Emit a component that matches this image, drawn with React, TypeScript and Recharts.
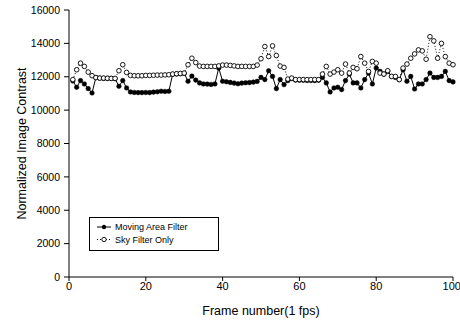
import React from 'react';
import { LineChart, Line, XAxis, YAxis, Legend } from 'recharts';

const FONT = '"Liberation Sans", Arial, sans-serif';

// frame index (1 fps)
const frames = [
    1, 2, 3, 4, 5, 6, 7, 8, 9, 10, 11, 12, 13, 14, 15, 16, 17, 18, 19, 20,
    21, 22, 23, 24, 25, 26, 27, 28, 29, 30, 31, 32, 33, 34, 35, 36, 37, 38, 39, 40,
    41, 42, 43, 44, 45, 46, 47, 48, 49, 50, 51, 52, 53, 54, 55, 56, 57, 58, 59, 60,
    61, 62, 63, 64, 65, 66, 67, 68, 69, 70, 71, 72, 73, 74, 75, 76, 77, 78, 79, 80,
    81, 82, 83, 84, 85, 86, 87, 88, 89, 90, 91, 92, 93, 94, 95, 96, 97, 98, 99, 100,
];

const movingAreaFilter = [
    11750, 11370, 11770, 11570, 11290, 11030, 11950, 11920, 11900, 11900,
    11900, 11880, 11430, 11770, 11330, 11090, 11060, 11050, 11050, 11060,
    11050, 11080, 11100, 11130, 11120, 11130, 12150, 12170, 12180, 12200,
    11730, 12040, 11800, 11630, 11570, 11560, 11540, 11570, 12520, 11730,
    11700, 11660, 11620, 11580, 11620, 11640, 11650, 11680, 11720, 11960,
    11830, 12360, 12020, 11290, 11830, 11530, 11770, 11890, 11800, 11790,
    11790, 11780, 11780, 11770, 11790, 11960, 11630, 11090, 11330, 11370,
    11230, 11770, 12160, 11630, 11630, 11330, 11830, 12220, 11570, 12520,
    12320, 12160, 12320, 12020, 11960, 11830, 12420, 11730, 12020, 11270,
    11570, 11570, 11830, 12220, 11960, 11960, 12020, 12320, 11770, 11690,
];

const skyFilterOnly = [
    11830, 12420, 12815, 12620, 12280, 12065, 11950, 11920, 11920, 11910,
    11900, 11900, 12360, 12720, 12260, 12080, 12060, 12060, 12060, 12080,
    12080, 12090, 12100, 12100, 12110, 12120, 12160, 12180, 12200, 12220,
    12720, 13110, 12850, 12640, 12620, 12620, 12620, 12620, 12650, 12700,
    12700, 12680, 12650, 12620, 12620, 12620, 12620, 12620, 12700, 13080,
    13810, 13210, 13850, 13270, 12640, 12560, 11860, 11920, 11830, 11830,
    11830, 11830, 11830, 11830, 11830, 12160, 12620, 12160, 12280, 12420,
    12220, 12760, 12220, 12560, 12480, 13210, 12815, 12320, 12920, 12815,
    12220, 12160, 12360, 12020, 12020, 11830, 12520, 12760, 13110, 13370,
    13610, 13550, 13050, 14400, 14150, 13110, 14000, 13210, 12815, 12720,
];

const xTicks = [0, 20, 40, 60, 80, 100];
const yTicks = [0, 2000, 4000, 6000, 8000, 10000, 12000, 14000, 16000];

const seriesNames = ['Moving Area Filter', 'Sky Filter Only'];

const data = frames.map((f, i) => ({
    frame: f,
    moving: movingAreaFilter[i],
    sky: skyFilterOnly[i],
}));

const LegendBox = () => (
    <svg width={130} height={34} style={{ display: 'block' }}>
        <rect x={0.5} y={0.5} width={129} height={33} fill="#fff" stroke="#000" strokeWidth={1} />
        <line x1={8} y1={10} x2={22} y2={10} stroke="#000" strokeWidth={1} />
        <circle cx={15} cy={10} r={2.2} fill="#000" />
        <text x={26} y={13.2} fontSize={9} fontFamily={FONT} fill="#000">{seriesNames[0]}</text>
        <line x1={8} y1={22.5} x2={22} y2={22.5} stroke="#000" strokeWidth={1} strokeDasharray="1 2" />
        <circle cx={15} cy={22.5} r={2.2} fill="#fff" stroke="#000" strokeWidth={0.9} />
        <text x={26} y={25.7} fontSize={9} fontFamily={FONT} fill="#000">{seriesNames[1]}</text>
    </svg>
);

const App: React.FC = () => {
    const tickStyle = { fill: '#000', fontSize: 11, fontFamily: FONT };

    return (
        <div style={{ position: 'absolute', left: 0, top: 0, background: '#fff' }}>
            <LineChart width={460} height={324} data={data} margin={{ top: 10, right: 7, left: 0, bottom: 0 }}>
                <XAxis
                    dataKey="frame"
                    type="number"
                    domain={[0, 100]}
                    ticks={xTicks}
                    height={47}
                    tickSize={4}
                    tickMargin={1}
                    stroke="#000"
                    tick={tickStyle}
                    label={{ value: 'Frame number(1 fps)', position: 'insideBottom', offset: 9, fill: '#000', fontSize: 12.5, fontFamily: FONT }}
                />
                <XAxis xAxisId="top" orientation="top" type="number" domain={[0, 100]} tick={false} tickLine={false} height={0} stroke="#000" />
                <YAxis
                    type="number"
                    domain={[0, 16000]}
                    ticks={yTicks}
                    width={69}
                    tickSize={5}
                    tickMargin={4}
                    stroke="#000"
                    tick={{ ...tickStyle, fontSize: 10.5 }}
                    interval={0}
                    label={{ value: 'Normalized Image Contrast', angle: -90, position: 'center', dx: -13, fill: '#000', fontSize: 12.5, fontFamily: FONT }}
                />
                <YAxis yAxisId="right" orientation="right" type="number" domain={[0, 16000]} tick={false} tickLine={false} width={0} stroke="#000" />
                <Legend
                    layout="horizontal"
                    verticalAlign="middle"
                    align="center"
                    wrapperStyle={{ left: 89, top: 217, width: 130, height: 34 }}
                    content={() => <LegendBox />}
                />
                <Line
                    dataKey="moving"
                    name={seriesNames[0]}
                    stroke="#000"
                    strokeWidth={1}
                    dot={{ r: 2.3, fill: '#000', stroke: '#000', strokeWidth: 0.5 }}
                    isAnimationActive={false}
                />
                <Line
                    dataKey="sky"
                    name={seriesNames[1]}
                    stroke="#000"
                    strokeWidth={1}
                    strokeDasharray="1 2"
                    dot={{ r: 2.3, fill: '#fff', stroke: '#000', strokeWidth: 0.9, strokeDasharray: '' }}
                    isAnimationActive={false}
                />
            </LineChart>
        </div>
    );
};

export default App;
